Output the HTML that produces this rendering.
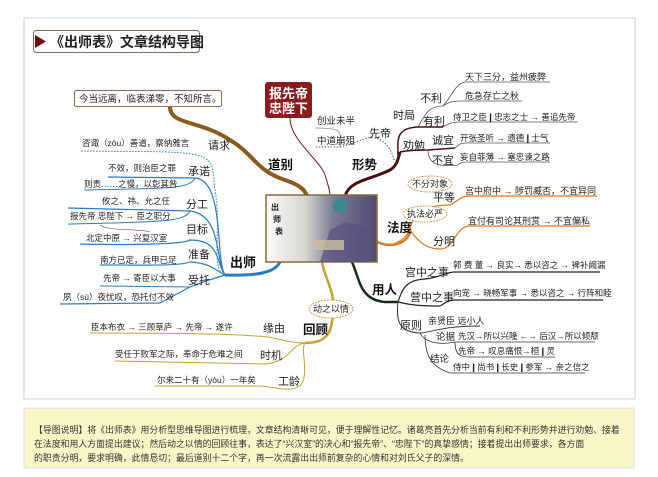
<!DOCTYPE html>
<html><head><meta charset="utf-8"><style>
html,body{margin:0;padding:0;background:#fff;}
svg{display:block;font-family:"Liberation Sans","Noto Sans CJK SC",sans-serif;}
.s{font-size:9px;fill:#222;}
.m{font-size:11px;fill:#222;}
.b{font-size:12.5px;font-weight:bold;fill:#111;}
</style></head><body>
<svg width="658" height="477" viewBox="0 0 658 477" xmlns="http://www.w3.org/2000/svg">
<defs>
<linearGradient id="g" x1="0" x2="1" y1="0" y2="0">
<stop offset="0" stop-color="#fbfbf8"/><stop offset="0.35" stop-color="#d8d6d0"/><stop offset="0.6" stop-color="#7b7e96"/><stop offset="1" stop-color="#4e4a70"/>
</linearGradient>
</defs>
<rect x="24" y="18" width="611" height="381" fill="#fff" stroke="#ccc" stroke-width="1"/>
<rect x="24" y="408" width="610" height="60" fill="#fbf6c8" stroke="#ddd" stroke-width="1"/>
<text x="34" y="433" style="font-size:8.9px;fill:#333">【导图说明】将《出师表》用分析型思维导图进行梳理，文章结构清晰可见，便于理解性记忆。诸葛亮首先分析当前有利和不利形势并进行劝勉、接着</text>
<text x="34" y="447" style="font-size:8.9px;fill:#333">在法度和用人方面提出建议；然后动之以情的回顾往事，表达了“兴汉室”的决心和“报先帝”、“忠陛下”的真挚感情；接着提出出师要求，各方面</text>
<text x="34" y="461" style="font-size:8.9px;fill:#333">的职责分明，要求明确，此情恳切；最后道别十二个字，再一次流露出出师前复杂的心情和对刘氏父子的深情。</text>

<rect x="33.5" y="30.5" width="166" height="22" rx="3" fill="#fff" stroke="#8a6a5a"/>
<polygon points="35,35 46,41.5 35,48" fill="#6b1010"/>
<text x="50" y="47" style="font-size:14px;font-weight:bold;fill:#222">《出师表》文章结构导图</text>

<rect x="74.5" y="90.5" width="147" height="16" rx="2" fill="#fff" stroke="#8a7050"/>
<text x="79" y="102" class="s" style="font-size:9.5px">今当远离，临表涕零，不知所言。</text>
<path d="M170,107 C170,125 200,120 230,140 C255,155 255,170 285,180 C300,185 305,190 307,196" fill="none" stroke="#8a5a1e" stroke-width="4"/>
<text x="268" y="169" class="b">道别</text>

<rect x="265" y="82" width="47" height="36" rx="3" fill="#8b1c1c"/>
<text x="288.5" y="98" text-anchor="middle" style="font-size:13px;font-weight:bold;fill:#fff">报先帝</text>
<text x="288.5" y="113" text-anchor="middle" style="font-size:13px;font-weight:bold;fill:#fff">忠陛下</text>
<path d="M290,118 C290,140 320,160 325,175 C328,185 330,190 330,196" fill="none" stroke="#6b1a1a" stroke-width="1"/>

<!-- 形势 -->
<path d="M345,196 C350,180 370,180 390,170 C398,165 398,158 400,152" fill="none" stroke="#4a1010" stroke-width="3"/>
<text x="352" y="169" class="b">形势</text>
<path d="M398,156 C398,140 395,128 418,127 L443,127" fill="none" stroke="#4a1010" stroke-width="1.5"/>
<path d="M400,152 C405,151 412,150 428,150 L455,148" fill="none" stroke="#4a1010" stroke-width="1.5"/>
<path d="M394,160 C392,150 385,140 375,138 C365,136 360,142 340,147 L315,147" fill="none" stroke="#555" stroke-width="1" stroke-dasharray="1.5,1.5"/>
<path d="M340,147 C340,132 345,128 315,128" fill="none" stroke="#888" stroke-width="0.8"/>
<text x="317" y="124" class="s" style="font-size:9.5px">创业未半</text>
<text x="317" y="144" class="s" style="font-size:9.5px">中道崩殂</text>
<text x="369" y="137" class="m">先帝</text>
<text x="393" y="119" class="m">时局</text>
<text x="420" y="102" class="m">不利</text>
<text x="423" y="125" class="m">有利</text>
<text x="403" y="149" class="m">劝勉</text>
<text x="432" y="144" class="m">诚宜</text>
<text x="432" y="164" class="m">不宜</text>
<path d="M418,127 C425,115 428,106 443,106 C452,96 455,84 465,82 L550,82" fill="none" stroke="#555" stroke-width="0.8"/>
<path d="M443,106 C450,101 455,101 465,101 L522,101" fill="none" stroke="#555" stroke-width="0.8"/>
<path d="M443,127 C448,124 452,122 460,122 L578,122" fill="none" stroke="#555" stroke-width="0.8"/>
<path d="M455,148 C458,145 460,143 466,143 L550,143" fill="none" stroke="#555" stroke-width="0.8"/>
<path d="M428,150 C428,165 440,167 458,165 C460,163 462,162 466,162 L550,162" fill="none" stroke="#555" stroke-width="0.8"/>
<text x="465" y="80" class="s">天下三分，益州疲弊</text>
<text x="465" y="99" class="s">危急存亡之秋</text>
<text x="453" y="120" class="s" style="font-size:8.5px">侍卫之臣❙忠志之士 → 善追先帝</text>
<text x="460" y="141" class="s" style="font-size:8.5px">开张圣听 → 遗德❙士气</text>
<text x="460" y="160" class="s" style="font-size:8.5px">妄自菲薄 → 塞忠谏之路</text>

<!-- 法度 -->
<path d="M377,242 C390,250 405,240 410,230 C420,245 430,249 440,249 C455,249 455,226 470,226 L590,226" fill="none" stroke="#d87a20" stroke-width="1.2"/>
<path d="M377,242 C395,250 412,240 410,228" fill="none" stroke="#d87a20" stroke-width="2.5"/>
<path d="M410,228 C415,210 430,205 450,205 C460,200 460,196 470,196 L597,196" fill="none" stroke="#d87a20" stroke-width="1.2"/>
<text x="387" y="232" class="b">法度</text>
<text x="433" y="201" class="m">平等</text>
<text x="433" y="245" class="m">分明</text>
<text x="465" y="194" class="s">宫中府中 → 陟罚臧否，不宜异同</text>
<text x="468" y="224" class="s">宜付有司论其刑赏 → 不宜偏私</text>
<ellipse cx="430" cy="184" rx="22" ry="8" fill="#fff" stroke="#c8a050" stroke-dasharray="2,1"/>
<text x="430" y="187" text-anchor="middle" class="s">不分对象</text>
<ellipse cx="425" cy="214" rx="22" ry="8" fill="#fff" stroke="#c8a050" stroke-dasharray="2,1"/>
<text x="425" y="217" text-anchor="middle" class="s">执法必严</text>

<!-- 用人 -->
<path d="M352,262 C360,280 360,300 385,302 C392,302 395,302 398,302" fill="none" stroke="#1a2a1a" stroke-width="2.5"/>
<path d="M398,302 C402,290 405,280 425,279 C440,278 445,272 455,272 L600,272" fill="none" stroke="#1a2a1a" stroke-width="1.2"/>
<path d="M398,302 C410,305 420,306 440,306 C445,303 448,300 455,300 L603,300" fill="none" stroke="#1a2a1a" stroke-width="1.2"/>
<path d="M398,302 C396,320 398,332 420,333 C430,333 440,326 480,326" fill="none" stroke="#333" stroke-width="1"/>
<path d="M420,333 C425,343 440,345 455,342 L595,342" fill="none" stroke="#333" stroke-width="0.8"/>
<path d="M455,342 C455,355 460,357 470,357 L555,357" fill="none" stroke="#333" stroke-width="0.8"/>
<path d="M425,335 C425,360 435,368 450,373 L585,373" fill="none" stroke="#333" stroke-width="0.8"/>
<text x="372" y="294" class="b">用人</text>
<text x="405" y="276" class="m">宫中之事</text>
<text x="410" y="301" class="m">营中之事</text>
<text x="400" y="329" class="m">原则</text>
<text x="428" y="324" class="s">亲贤臣 远小人</text>
<text x="436" y="340" class="s" style="font-size:9.5px">论据</text>
<text x="430" y="362" class="s" style="font-size:9.5px">结论</text>
<text x="453" y="268" class="s" style="font-size:8.5px">郭 费 董 → 良实→ 悉以咨之 → 裨补阙漏</text>
<text x="453" y="296" class="s" style="font-size:8.5px">向宠 → 晓畅军事 → 悉以咨之 → 行阵和睦</text>
<text x="458" y="339" class="s" style="font-size:8.5px">先汉→所以兴隆 ←→ 后汉→所以倾颓</text>
<text x="458" y="354" class="s" style="font-size:8.5px">先帝 → 叹息痛恨→桓❙灵</text>
<text x="453" y="370" class="s" style="font-size:8.5px">侍中❙尚书❙长史❙参军 → 亲之信之</text>

<!-- 回顾 -->
<path d="M322,262 C325,280 335,290 333,310 C332,330 330,343 305,343" fill="none" stroke="#c8a030" stroke-width="2.5"/>
<path d="M305,343 C285,343 275,336 255,336 C250,336 245,333 90,333" fill="none" stroke="#c8a030" stroke-width="1"/>
<path d="M305,343 C290,345 290,362 265,364 L115,361" fill="none" stroke="#c8a030" stroke-width="1"/>
<path d="M305,343 C300,350 310,375 300,386 C290,392 280,388 260,386 L155,386" fill="none" stroke="#c8a030" stroke-width="1"/>
<ellipse cx="331" cy="309" rx="22" ry="9" fill="#fff" stroke="#c8a050" stroke-dasharray="2,1"/>
<text x="331" y="312" text-anchor="middle" class="s">动之以情</text>
<text x="303" y="334" class="b">回顾</text>
<text x="263" y="332" class="m">缘由</text>
<text x="260" y="359" class="m">时机</text>
<text x="278" y="385" class="m">工龄</text>
<text x="91" y="330" class="s" style="font-size:8.5px">臣本布衣 → 三顾草庐 → 先帝 → 遂许</text>
<text x="115" y="357" class="s" style="font-size:8.5px">受任于败军之际，奉命于危难之间</text>
<text x="157" y="383" class="s" style="font-size:8.5px">尔来二十有（yòu）一年矣</text>

<!-- 出师 -->
<g fill="none" stroke="#2a7cc0">
<path d="M280,262 C275,272 260,276 225,275" stroke-width="3"/>
<path d="M225,275 C210,270 222,230 215,190 C212,170 215,165 205,158 C190,150 150,152 80,151" stroke-width="1" stroke-dasharray="1.5,1.5"/>
<path d="M225,275 C215,260 225,180 195,178 L108,177" stroke-width="1.2"/>
<path d="M195,178 C190,190 160,188 84,190" stroke-width="1"/>
<path d="M225,275 C215,260 222,215 190,211 L68,208" stroke-width="1.2"/>
<path d="M190,211 C185,222 160,222 68,224" stroke-width="1"/>
<path d="M225,275 C215,260 220,240 190,240 C182,245 120,245 80,244" stroke-width="1.2"/>
<path d="M225,275 C215,270 210,263 190,262 C180,266 150,265 100,265" stroke-width="1.2"/>
<path d="M225,275 C215,278 200,283 190,287 C180,292 170,298 160,303 L60,304" stroke-width="1.2"/>
<path d="M190,287 L100,286" stroke-width="1"/>
</g>
<path d="M100,225 C110,232 140,228 150,232" fill="none" stroke="#a03030" stroke-width="0.6"/>
<text x="230" y="267" class="b" style="font-size:13px">出师</text>
<text x="208" y="149" class="m">请求</text>
<text x="188" y="175" class="m">承诺</text>
<text x="186" y="208" class="m">分工</text>
<text x="186" y="233" class="m">目标</text>
<text x="188" y="258" class="m">准备</text>
<text x="188" y="284" class="m">受托</text>
<text x="82" y="146" class="s" style="font-size:8.5px">咨诹（zōu）善道，察纳雅言</text>
<text x="108" y="171" class="s" style="font-size:8.5px">不效，则治臣之罪</text>
<text x="84" y="187" class="s" style="font-size:8.5px">则责……之慢，以彰其咎</text>
<text x="102" y="204" class="s" style="font-size:8.5px">攸之、祎、允之任</text>
<text x="70" y="219" class="s" style="font-size:8.5px">报先帝 忠陛下 → 臣之职分</text>
<text x="86" y="241" class="s" style="font-size:8.5px">北定中原 → 兴复汉室</text>
<text x="100" y="263" class="s" style="font-size:8.5px">南方已定，兵甲已足</text>
<text x="103" y="281" class="s" style="font-size:8.5px">先帝 → 寄臣以大事</text>
<text x="63" y="300" class="s" style="font-size:8.5px">夙（sù）夜忧叹，恐托付不效</text>

<rect x="266" y="195" width="111" height="67" fill="url(#g)" stroke="#8a6a3a" stroke-width="1.5"/>
<path d="M330,230 L345,222 L365,226 L368,262 L320,262 Z" fill="#5a5080" opacity="0.7"/>
<circle cx="340" cy="206" r="7" fill="#3a8a8a"/>
<rect x="314" y="240" width="30" height="10" fill="#c8c0a0" opacity="0.8"/>
<text x="271" y="210" style="font-size:8px;font-weight:bold;fill:#222">出</text>
<text x="273" y="222" style="font-size:8px;font-weight:bold;fill:#222">师</text>
<text x="275" y="234" style="font-size:8px;font-weight:bold;fill:#222">表</text>
</svg>
</body></html>
